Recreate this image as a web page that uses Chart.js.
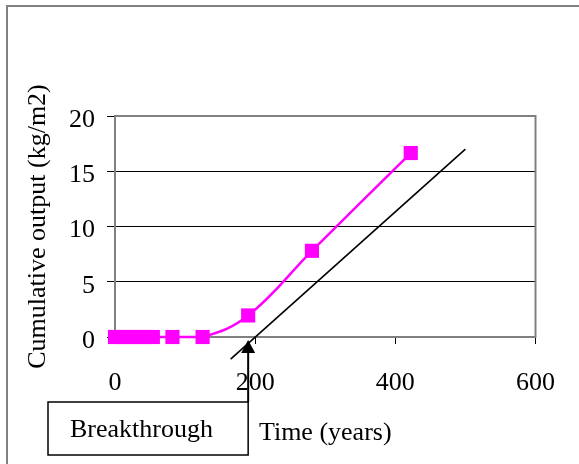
<!DOCTYPE html>
<html lang="en">
<head>
    <meta charset="UTF-8">
    <title>Cumulative output</title>
    <script src="https://cdn.jsdelivr.net/npm/chart.js"></script>
    <style>
        body {
            margin: 0;
            background: #ffffff;
        }
        #frame {
            position: absolute;
            left: 6px;
            top: 5px;
            width: 600px;
            height: 500px;
            border-top: 2px solid #808080;
            border-left: 2px solid #808080;
        }
        #wrap {
            position: absolute;
            left: 0;
            top: 0;
            width: 579px;
            height: 464px;
        }
    </style>
</head>
<body>
    <div id="frame"></div>
    <div id="wrap">
        <canvas id="outputChart" width="579" height="464"></canvas>
    </div>

    <script>
        // measured output (years, kg/m2)
        var timeYears = [0, 11, 22, 33, 44, 54, 82, 125, 190, 281, 422];
        var cumulativeOutput = [0, 0, 0, 0, 0, 0, 0, 0, 1.95, 7.8, 16.65];

        // straight line used to read the breakthrough time
        var tangentX = [165, 500];
        var tangentY = [-2, 17];

        var xTicks = [0, 200, 400, 600];
        var yTicks = [0, 5, 10, 15, 20];

        var breakthroughTime = 190;
        var breakthroughLabel = 'Breakthrough';

        var serif = "'Liberation Serif', 'Times New Roman', serif";

        function toPoints(xs, ys) {
            return xs.map(function (x, i) { return { x: x, y: ys[i] }; });
        }

        // gray frame round the plot area
        var plotFrame = {
            id: 'plotFrame',
            beforeDatasetsDraw: function (chart) {
                var a = chart.chartArea;
                var ctx = chart.ctx;
                ctx.save();
                ctx.strokeStyle = '#808080';
                ctx.lineWidth = 2;
                ctx.strokeRect(a.left, a.top, a.right - a.left, a.bottom - a.top);
                ctx.restore();
            }
        };

        // arrow and text box under the x axis
        var breakthroughNote = {
            id: 'breakthroughNote',
            afterDraw: function (chart) {
                var ctx = chart.ctx;
                var x = chart.scales.x.getPixelForValue(breakthroughTime);
                var tip = chart.chartArea.bottom + 3;
                var boxTop = 402, boxBottom = 455, boxLeft = 48;

                ctx.save();
                ctx.fillStyle = '#000';
                ctx.strokeStyle = '#000';

                // arrow head
                ctx.beginPath();
                ctx.moveTo(x, tip);
                ctx.lineTo(x - 7, tip + 13);
                ctx.lineTo(x + 7, tip + 13);
                ctx.closePath();
                ctx.fill();

                // arrow shaft
                ctx.lineWidth = 2;
                ctx.beginPath();
                ctx.moveTo(x, tip + 12);
                ctx.lineTo(x, boxTop);
                ctx.stroke();

                // box
                ctx.lineWidth = 1.5;
                ctx.strokeRect(boxLeft, boxTop, x - boxLeft, boxBottom - boxTop);

                ctx.font = '26px ' + serif;
                ctx.textAlign = 'left';
                ctx.textBaseline = 'alphabetic';
                ctx.fillText(breakthroughLabel, 70, 437);
                ctx.restore();
            }
        };

        document.addEventListener('DOMContentLoaded', function () {
            var ctx = document.getElementById('outputChart').getContext('2d');

            new Chart(ctx, {
                type: 'scatter',
                data: {
                    datasets: [{
                        label: 'Cumulative output',
                        data: toPoints(timeYears, cumulativeOutput),
                        showLine: true,
                        borderColor: '#ff00ff',
                        backgroundColor: '#ff00ff',
                        borderWidth: 2.5,
                        tension: 0.4,
                        pointStyle: 'rect',
                        pointRadius: 10,
                        pointBorderWidth: 0,
                        pointHoverRadius: 10,
                        clip: false
                    }, {
                        label: 'Tangent',
                        data: toPoints(tangentX, tangentY),
                        showLine: true,
                        borderColor: '#000000',
                        borderWidth: 1.6,
                        pointRadius: 0,
                        pointHoverRadius: 0,
                        clip: false
                    }]
                },
                options: {
                    responsive: false,
                    animation: false,
                    events: [],
                    layout: {
                        padding: { top: 116, right: 42, left: 0, bottom: 0 }
                    },
                    plugins: {
                        legend: { display: false },
                        tooltip: { enabled: false }
                    },
                    scales: {
                        x: {
                            type: 'linear',
                            position: 'bottom',
                            min: 0,
                            max: 600,
                            afterBuildTicks: function (scale) {
                                scale.ticks = xTicks.map(function (v) { return { value: v }; });
                            },
                            afterFit: function (scale) { scale.height = 127; },
                            ticks: {
                                color: '#000',
                                font: { family: serif, size: 26 },
                                padding: 24,
                                maxRotation: 0
                            },
                            grid: {
                                drawOnChartArea: false,
                                drawTicks: true,
                                tickLength: 7,
                                color: '#000'
                            },
                            border: { color: '#808080', width: 2 },
                            title: {
                                display: true,
                                text: 'Time (years)',
                                color: '#000',
                                font: { family: serif, size: 26 },
                                padding: { top: 0, bottom: 15 }
                            }
                        },
                        y: {
                            min: 0,
                            max: 20,
                            afterBuildTicks: function (scale) {
                                scale.ticks = yTicks.map(function (v) { return { value: v }; });
                            },
                            afterFit: function (scale) { scale.width = 115; },
                            ticks: {
                                color: '#000',
                                font: { family: serif, size: 26 },
                                padding: 12,
                                labelOffset: 4
                            },
                            grid: {
                                color: '#000',
                                lineWidth: 1,
                                tickLength: 8
                            },
                            border: { color: '#808080', width: 2 },
                            title: {
                                display: true,
                                text: 'Cumulative output (kg/m2)',
                                color: '#000',
                                font: { family: serif, size: 26 },
                                padding: { top: 23, bottom: 0 }
                            }
                        }
                    }
                },
                plugins: [plotFrame, breakthroughNote]
            });
        });
    </script>
</body>
</html>
